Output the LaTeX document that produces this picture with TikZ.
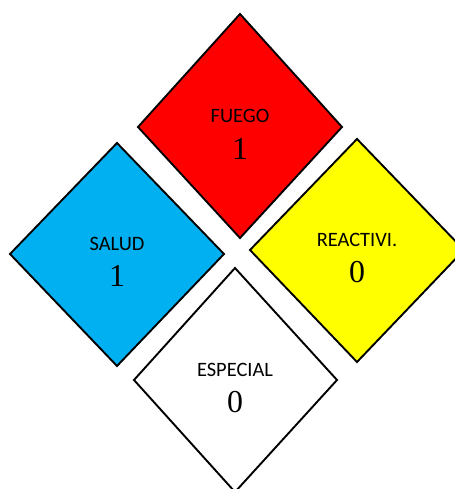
\documentclass[tikz,border=0pt]{standalone}
\usepackage{fontspec}
\setmainfont{Liberation Serif}
\newfontfamily\labfont{Carlito}
\definecolor{nfpared}{HTML}{FF0000}
\definecolor{nfpablue}{HTML}{00B0F0}
\definecolor{nfpayellow}{HTML}{FFFF00}
\begin{document}
\begin{tikzpicture}[x=1bp,y=-1bp,
  dia/.style={draw=black,line width=1.9bp,line join=miter},
  lab/.style={inner sep=0pt,font=\labfont\fontsize{20.5}{21}\selectfont},
  num/.style={inner sep=0pt,font=\fontsize{32}{34}\selectfont}]
\useasboundingbox (0,0) rectangle (455,489);
\clip (0,0) rectangle (455,489);
% red
\filldraw[dia,fill=nfpared] (240,14) -- (342,127) -- (240,238) -- (138,127) -- cycle;
\node[lab] (fuego) at (240,115.5) {FUEGO};
\node[num] (fuegon) at (240,149) {1};
% blue
\filldraw[dia,fill=nfpablue] (117,143) -- (224,254) -- (117,366) -- (10,254) -- cycle;
\node[lab] (salud) at (117,243.5) {SALUD};
\node[num] (saludn) at (117,276) {1};
% yellow
\filldraw[dia,fill=nfpayellow] (357,139) -- (464,250) -- (357,362) -- (250,250) -- cycle;
\node[lab] (reac) at (357,240) {REACTIVI.};
\node[num] (reacn) at (357,272) {0};
% white
\filldraw[dia,fill=white] (235,268) -- (337,380) -- (235,492) -- (134,380) -- cycle;
\node[lab] (esp) at (235,370) {ESPECIAL};
\node[num] (espn) at (235,402) {0};
\end{tikzpicture}
\end{document}
